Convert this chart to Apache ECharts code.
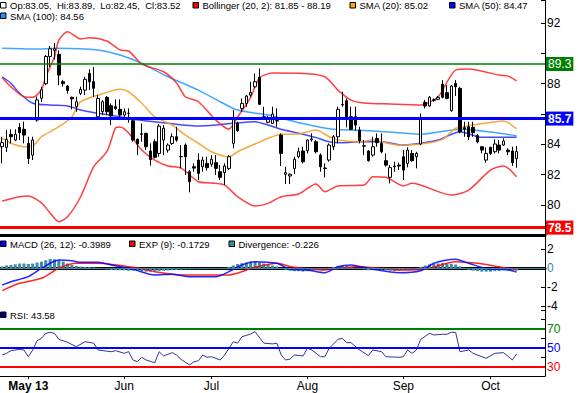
<!DOCTYPE html>
<html><head><meta charset="utf-8">
<script src="https://cdn.jsdelivr.net/npm/echarts/dist/echarts.min.js"></script>
<style>html,body{margin:0;padding:0;background:#fff}#c{width:578px;height:393px}</style>
</head><body><div id="c"></div>
<script>
// ---------- data ----------
const slotCount = 125; // trading-day slots on the x axis (last 6 are empty)
const tickIdx = [6, 28, 48, 70, 92, 112];
const tickLabels = ['May 13', 'Jun', 'Jul', 'Aug', 'Sep', 'Oct'];

const open = [83.84,83.8,84.65,84.28,85.12,84.99,84.06,83.29,85.6,87.04,
88.0,89.8,90.2,89.94,88.13,87.85,87.1,86.48,87.36,87.58,
88.68,88.13,85.82,86.15,87.1,86.55,86.48,86.31,85.93,86.05,
85.56,84.33,84.7,84.72,83.56,84.17,83.4,84.28,83.62,84.06,
84.5,83.2,83.95,82.19,82.52,82.96,82.52,82.74,82.68,82.79,
82.19,82.13,82.41,84.06,85.38,86.37,86.7,87.25,87.8,88.42,
85.82,85.45,85.38,85.56,84.61,82.02,81.91,82.41,83.18,83.56,
83.58,84.3,84.17,83.29,82.43,82.96,83.84,84.5,86.6,86.88,
85.82,85.82,84.94,83.9,83.56,83.29,84.39,84.06,82.92,81.82,
82.52,82.63,83.18,82.74,83.4,83.18,84.02,86.77,86.53,86.9,
86.97,87.96,87.41,86.22,88.02,87.69,85.1,85.16,85.12,84.57,
83.84,82.96,83.8,83.51,83.95,83.95,83.62,83.56,83.05];
const high = [84.5,84.94,84.99,84.99,85.4,85.5,84.5,84.5,87.15,87.8,
89.9,90.5,90.7,90.2,88.25,87.9,87.15,87.14,87.8,88.46,
88.95,89.1,87.25,86.92,87.19,86.7,86.97,86.97,86.37,86.37,
85.71,84.39,85.38,84.77,84.06,84.33,85.34,85.27,84.06,84.72,
85.16,83.95,84.06,82.3,82.74,83.4,83.18,83.18,83.29,83.29,
82.63,82.74,83.29,86.26,85.49,87.03,87.25,88.13,88.68,89.01,
86.48,85.87,86.48,86.37,84.72,82.52,82.08,83.18,83.78,83.84,
84.33,84.72,84.28,83.4,82.74,84.06,84.61,86.48,87.47,87.03,
86.48,86.48,85.16,84.28,83.62,84.5,84.72,84.72,83.4,82.63,
82.85,82.79,83.62,83.8,83.62,83.51,86.04,86.92,87.19,87.03,
87.19,88.24,87.91,87.91,88.24,87.8,85.49,85.49,85.49,84.68,
83.88,83.8,83.84,84.33,84.28,84.39,83.73,83.84,83.89];
const low = [82.74,83.5,84.06,84.2,84.28,84.06,82.7,82.96,85.5,86.8,
87.9,89.1,89.6,87.9,87.8,87.35,86.3,86.15,87.25,87.25,
87.58,87.14,85.82,85.93,85.93,85.27,86.26,85.78,85.82,85.43,
84.17,83.29,84.17,83.62,82.59,83.07,83.18,83.29,83.45,83.95,
84.17,82.41,81.97,80.83,82.19,81.64,82.19,82.26,82.52,81.97,
81.64,81.31,82.3,83.73,84.83,86.15,86.48,87.14,87.7,86.59,
85.6,85.38,85.34,85.16,82.57,81.38,81.38,82.04,83.07,82.74,
83.4,84.17,83.4,82.19,81.82,82.85,83.62,84.06,86.48,85.12,
84.94,84.9,84.06,83.29,82.85,83.18,83.84,83.4,82.52,81.42,
82.19,82.3,81.64,82.48,82.85,82.41,83.95,86.37,86.48,86.81,
86.92,87.03,86.97,86.15,87.19,84.72,84.5,84.28,84.5,84.06,
83.4,82.79,83.29,83.4,83.4,83.9,83.29,82.57,82.45];
const close = [84.11,84.33,84.5,84.66,84.77,84.61,83.07,84.28,86.93,87.6,
89.8,90.3,90.3,88.57,88.0,87.55,87.0,86.81,87.63,88.29,
88.13,87.7,87.03,86.81,86.15,85.87,86.37,85.93,86.15,86.04,
84.28,84.02,84.66,83.84,83.0,83.14,85.2,85.06,83.95,84.5,
84.28,83.18,83.18,81.53,82.43,82.08,82.96,82.46,83.01,82.41,
81.82,82.57,83.18,85.71,84.9,86.7,87.19,87.41,88.13,86.64,
85.75,85.71,86.0,85.54,83.4,82.13,82.02,83.01,83.51,82.85,
84.28,84.36,83.51,82.52,82.41,83.95,84.5,86.31,86.64,85.82,
84.99,85.27,84.24,83.88,82.92,83.84,84.11,83.51,82.63,82.46,
82.57,82.57,82.3,83.62,82.92,83.4,85.65,86.53,87.1,86.95,
87.1,87.1,87.03,87.85,87.8,84.83,85.0,84.5,84.77,84.17,
83.62,83.4,83.4,84.02,83.62,84.22,83.51,82.79,83.52];

// indicator lines, read as [day index, value]
const bbUpper = [[0,88.4],[2,87.8],[5,87.14],[7,87.1],[9,87.6],[10,88.46],[12,89.78],[13,90.88],[15,91.43],[18,90.95],[20,91.04],[24,90.82],[27,90.23],[29,90.16],[32,89.3],[37,88.79],[40,88.05],[42,87.14],[45,86.81],[49,85.6],[52,85.0],[54,85.8],[57,87.1],[59,88.38],[62,88.7],[68,88.69],[74,88.46],[77,87.58],[80,86.92],[83,86.73],[89,86.66],[96,86.6],[100,87.14],[104,88.9],[107,88.97],[114,88.57],[116,88.5],[118,88.19]];
const bbLower = [[0,80.26],[4,80.54],[6,80.59],[9,80.13],[11,79.47],[13,78.89],[15,79.22],[18,80.54],[21,82.52],[24,83.51],[26,85.08],[27,85.14],[29,84.75],[32,83.62],[35,82.96],[38,82.57],[41,82.44],[45,81.53],[48,81.45],[51,81.31],[54,80.54],[58,79.93],[61,80.1],[64,80.54],[68,80.72],[72,81.38],[74,80.87],[77,81.25],[83,81.31],[85,81.86],[88,81.82],[92,81.25],[94,81.43],[103,80.65],[107,80.98],[112,82.3],[115,82.57],[118,81.85]];
const sma20 = [[0,84.4],[2,84.07],[5,83.84],[7,83.89],[9,84.5],[13,85.16],[16,85.82],[18,86.81],[22,87.25],[27,87.63],[29,87.47],[32,86.71],[35,85.82],[39,85.27],[42,84.61],[45,84.07],[48,83.51],[52,83.18],[54,83.51],[58,84.02],[61,84.4],[64,84.66],[68,84.68],[72,84.94],[75,84.5],[77,84.28],[82,84.17],[85,84.28],[88,84.11],[91,83.95],[96,84.02],[101,84.33],[104,85.06],[108,85.27],[113,85.49],[115,85.54],[118,85.02]];
const sma50 = [[0,88.46],[2,88.03],[4,87.37],[7,86.71],[11,86.59],[15,86.53],[18,86.26],[22,86.05],[26,85.87],[30,85.65],[38,85.39],[45,85.21],[49,85.27],[53,85.39],[58,85.49],[61,85.27],[64,84.99],[68,84.73],[72,84.44],[75,84.17],[78,84.11],[82,84.17],[87,84.17],[92,83.95],[96,84.07],[100,84.28],[105,84.83],[110,84.46],[118,84.47]];
const sma100 = [[0,90.34],[7,90.29],[13,90.34],[22,90.22],[27,89.89],[32,89.35],[38,88.46],[45,87.58],[50,86.81],[54,86.26],[61,85.93],[68,85.43],[76,84.99],[84,84.9],[91,84.77],[96,84.66],[105,84.99],[118,84.56]];
const priceLevels = [89.3, 85.7, 78.5];

const macd = [[0,-1.76],[2,-1.41],[6,-0.88],[9,0],[13,0.87],[16,0.8],[18,0.63],[22,0.63],[25,0.35],[30,-0.1],[35,-0.7],[39,-0.63],[43,-0.88],[49,-0.88],[52,-0.35],[55,0.35],[58,0.7],[63,0.53],[66,-0.1],[70,-0.18],[74,-0.46],[77,0.17],[80,0.35],[85,-0.1],[91,-0.46],[96,-0.25],[99,0.53],[104,0.95],[107,0.53],[112,-0.1],[115,-0.1],[118,-0.4]];
const macdSignal = [[0,-2.35],[4,-1.58],[9,-1.05],[13,0],[17,0.53],[22,0.53],[30,0.1],[35,-0.36],[41,-0.7],[52,-0.7],[58,0.1],[63,0.53],[66,0.2],[68,0.06],[74,-0.18],[81,0.17],[87,0],[91,-0.18],[97,-0.1],[104,0.7],[109,0.53],[116,0],[118,-0.17]];
const divergence = [0.2,0.3,0.35,0.42,0.5,0.5,0.45,0.5,0.6,0.7,0.85,0.98,0.95,0.85,0.7,0.5,0.35,0.25,0.18,0.15,0.12,0.1,0.05,
-0.05,-0.12,-0.18,-0.2,-0.2,-0.22,-0.25,-0.25,-0.28,-0.32,-0.35,-0.35,-0.32,-0.28,-0.25,-0.22,-0.2,-0.18,-0.15,-0.12,-0.12,-0.1,-0.1,-0.08,-0.05,-0.03,0,0.02,0.05,
0.15,0.3,0.45,0.55,0.62,0.7,0.7,0.62,0.5,0.4,0.3,0.2,0.05,-0.15,-0.25,
-0.3,-0.3,-0.35,-0.3,-0.25,-0.2,-0.18,-0.1,0.05,
0.15,0.25,0.3,0.25,0.15,0.05,-0.05,
-0.12,-0.2,-0.2,-0.15,-0.15,-0.2,-0.25,-0.3,-0.25,-0.2,-0.15,-0.1,-0.05,
0.15,0.3,0.4,0.45,0.5,0.55,0.5,0.45,0.4,0.2,0.05,
-0.15,-0.25,-0.3,-0.35,-0.35,-0.35,-0.3,-0.3,-0.25,-0.25,-0.22,-0.23];

const rsi = [[0,42.4],[1,44.2],[2,47],[4,48.4],[5,47.7],[6,40.6],[7,47.7],[8,57.6],[9,60.1],[10,65.4],[11,66.5],[12,65.4],[13,59],[15,55.9],[17,51.2],[19,56.5],[21,55],[22,47.7],[25,45.9],[26,47],[28,44.2],[29,46],[30,37.1],[31,35.3],[32,40],[33,37.1],[35,34.2],[36,45.9],[37,41.4],[39,44.9],[40,42.4],[41,37.8],[43,31.8],[44,35.3],[45,36.3],[46,42.4],[47,40],[48,40.6],[50,37.1],[51,42.4],[53,56.5],[54,55],[55,61.8],[57,64.7],[58,67.2],[60,55],[62,54.2],[63,55],[64,42.4],[65,37.1],[66,38],[67,42.4],[69,41.4],[70,49.5],[71,47.7],[73,40.6],[74,40.6],[75,49.5],[77,59],[78,60.1],[79,55.5],[80,55.5],[82,47.7],[84,41.7],[85,47.7],[87,46],[88,40.6],[91,40],[92,40.6],[93,47.7],[94,44.2],[95,47.7],[96,59],[98,65.4],[99,63.7],[101,64.4],[102,64.4],[103,66.5],[104,66.5],[105,45.9],[107,47.7],[108,44.2],[111,38.9],[113,44.2],[115,44.9],[117,37.1],[118,43.58]];
const rsiLevels = [70, 50, 30];

// ---------- chart ----------
const cats = [];
for (let i = 0; i < slotCount; i++) cats.push(String(i));
const candles = open.map((o, i) => [o, close[i], low[i], high[i]]);

const FONT = '"Liberation Sans", Arial, sans-serif';
const chart = echarts.init(document.getElementById('c'), null, {renderer: 'svg'});

function lineSeries(name, data, color, xi, width) {
  return {name, type: 'line', data, xAxisIndex: xi, yAxisIndex: xi, showSymbol: false, symbol: 'none',
    smooth: 0.25, lineStyle: {color, width: width || 1.5}, z: 3, silent: true};
}
const levelColors = ['#008000', '#0000ff', '#ff0000'];
const levelWidths = [1.5, 3, 3];
const levelBold = ['normal', 'bold', 'bold'];

const legendItems = [
  {x: 0.5, y: 5.5, sq: '#ffffff', t: 'Op:83.05,  Hi:83.89,  Lo:82.45,  Cl:83.52'},
  {x: 193, y: 5.5, sq: '#ff0000', t: 'Bollinger (20, 2): 81.85 - 88.19'},
  {x: 350, y: 5.5, sq: '#ffa500', t: 'SMA (20): 85.02'},
  {x: 449.5, y: 5.5, sq: '#0000ff', t: 'SMA (50): 84.47'},
  {x: 0.5, y: 16, sq: '#1e90ff', t: 'SMA (100): 84.56'},
  {x: 0.5, y: 244, sq: '#0000ff', t: 'MACD (26, 12): -0.3989'},
  {x: 129.5, y: 244, sq: '#ff0000', t: 'EXP (9): -0.1729'},
  {x: 229, y: 244, sq: '#3a8aa8', t: 'Divergence: -0.226'},
  {x: 0.5, y: 315, sq: '#000080', t: 'RSI: 43.58'}
];
const graphics = [];
legendItems.forEach(it => {
  graphics.push({type: 'rect', shape: {x: it.x, y: it.y - 3, width: 5.5, height: 5.5},
    style: {fill: it.sq, stroke: '#000', lineWidth: 1}, z: 100, silent: true});
  graphics.push({type: 'text', x: it.x + 9.5, y: it.y, style: {text: it.t, fill: '#000',
    fontSize: 9.5, fontFamily: FONT, verticalAlign: 'middle', align: 'left'}, z: 100, silent: true});
});

const option = {
  animation: false,
  backgroundColor: '#fff',
  textStyle: {fontFamily: FONT},
  graphic: graphics,
  grid: [
    {left: 0, right: 33, top: 0.4, height: 234.8, containLabel: false, outerBoundsMode: 'none'},
    {left: 0, right: 33, top: 236, height: 70.3, containLabel: false, outerBoundsMode: 'none'},
    {left: 0, right: 33, top: 306.7, height: 69.4, containLabel: false, outerBoundsMode: 'none'}
  ],
  xAxis: [
    {type: 'category', gridIndex: 0, data: cats, boundaryGap: true,
      axisLine: {show: true, lineStyle: {color: '#000', width: 3}}, axisTick: {show: false}, axisLabel: {show: false}, splitLine: {show: false}},
    {type: 'category', gridIndex: 1, data: cats, boundaryGap: true,
      axisLine: {show: true, lineStyle: {color: '#000', width: 3}}, axisTick: {show: false}, axisLabel: {show: false}, splitLine: {show: false}},
    {type: 'category', gridIndex: 2, data: cats, boundaryGap: true,
      axisLine: {show: true, lineStyle: {color: '#000', width: 1}},
      axisTick: {show: true, alignWithLabel: true, length: 3, lineStyle: {color: '#000'},
        interval: (i) => tickIdx.indexOf(i) >= 0},
      axisLabel: {show: true, margin: 4, fontSize: 12, color: '#000', fontFamily: FONT,
        interval: (i) => tickIdx.indexOf(i) >= 0,
        formatter: (v, i) => { const k = tickIdx.indexOf(i); if (k < 0) return ''; return k === 0 ? '{b|' + tickLabels[k] + '}' : tickLabels[k]; },
        rich: {b: {fontWeight: 'bold', fontSize: 12, color: '#000', fontFamily: FONT}}},
      splitLine: {show: false}}
  ],
  yAxis: [
    {type: 'value', gridIndex: 0, position: 'right', min: 78, max: 93.5, interval: 2, scale: true,
      axisLine: {show: true, lineStyle: {color: '#000', width: 1}},
      axisTick: {show: true, inside: true, length: 4, lineStyle: {color: '#000'}},
      axisLabel: {margin: 2, fontSize: 12, color: '#000', fontFamily: FONT,
        formatter: v => ([80, 82, 84, 88, 92].indexOf(v) >= 0 ? String(v) : '')},
      splitLine: {show: false}},
    {type: 'value', gridIndex: 1, position: 'right', min: -4, max: 3.4, interval: 2,
      axisLine: {show: true, lineStyle: {color: '#000', width: 1}},
      axisTick: {show: true, inside: true, length: 4, lineStyle: {color: '#000'}},
      axisLabel: {margin: 2, fontSize: 12, color: '#000', fontFamily: FONT,
        formatter: v => (v === 0 ? '{t|0}' : ([2, -2, -4].indexOf(v) >= 0 ? String(v) : '')),
        rich: {t: {color: '#3a8aa8', fontSize: 12, fontFamily: FONT}}},
      splitLine: {show: false}},
    {type: 'value', gridIndex: 2, position: 'right', min: 20, max: 93.7, interval: 10,
      axisLine: {show: true, lineStyle: {color: '#000', width: 1}},
      axisTick: {show: true, inside: true, length: 4, lineStyle: {color: '#000'}},
      axisLabel: {margin: 2, fontSize: 12, color: '#000', fontFamily: FONT,
        formatter: v => (v === 70 ? '{g|70}' : v === 50 ? '{b|50}' : v === 30 ? '{r|30}' : ''),
        rich: {g: {color: '#008000', fontSize: 12, fontFamily: FONT}, b: {color: '#0000ff', fontSize: 12, fontFamily: FONT}, r: {color: '#ff0000', fontSize: 12, fontFamily: FONT}}},
      splitLine: {show: false}}
  ],
  series: [
    lineSeries('SMA (100)', sma100, 'rgba(30,150,255,0.85)', 0),
    lineSeries('SMA (50)', sma50, 'rgba(40,40,255,0.85)', 0),
    lineSeries('SMA (20)', sma20, 'rgba(245,160,40,0.9)', 0),
    lineSeries('Bollinger upper', bbUpper, 'rgba(255,30,30,0.85)', 0),
    lineSeries('Bollinger lower', bbLower, 'rgba(255,30,30,0.85)', 0),
    {name: 'Price', type: 'candlestick', xAxisIndex: 0, yAxisIndex: 0, data: candles, barWidth: 3, z: 4, silent: true,
      itemStyle: {color: '#ffffff', color0: '#000000', borderColor: '#000000', borderColor0: '#000000', borderColorDoji: '#000000', borderWidth: 1},
      markLine: {symbol: 'none', silent: true, animation: false, z: 5,
        data: priceLevels.map((v, k) => ({yAxis: v,
          lineStyle: {color: levelColors[k], width: levelWidths[k], type: 'solid'},
          label: {show: true, position: 'end', distance: 1, formatter: v.toFixed(1), color: '#fff',
            backgroundColor: levelColors[k], padding: [1, 2, 0, 2], fontSize: 12, lineHeight: 13,
            fontWeight: levelBold[k], fontFamily: FONT}}))}},
    {name: 'Divergence', type: 'bar', xAxisIndex: 1, yAxisIndex: 1, data: divergence, barWidth: 3, silent: true,
      itemStyle: {color: '#3a8aa8'}, z: 2,
      markLine: {symbol: 'none', silent: true, animation: false, label: {show: false},
        data: [{yAxis: 0, lineStyle: {color: '#3a8aa8', width: 1, type: 'solid'}}]}},
    lineSeries('EXP (9)', macdSignal, 'rgba(255,0,0,0.85)', 1),
    lineSeries('MACD (26, 12)', macd, 'rgba(0,0,255,0.85)', 1),
    {name: 'RSI', type: 'line', xAxisIndex: 2, yAxisIndex: 2, data: rsi, showSymbol: false, symbol: 'none', silent: true,
      lineStyle: {color: '#33339a', width: 1}, z: 4,
      markLine: {symbol: 'none', silent: true, animation: false, label: {show: false},
        data: rsiLevels.map((v, k) => ({yAxis: v, lineStyle: {color: levelColors[k], width: 2, type: 'solid'}}))}}
  ]
};
chart.setOption(option);
</script>
</body></html>
